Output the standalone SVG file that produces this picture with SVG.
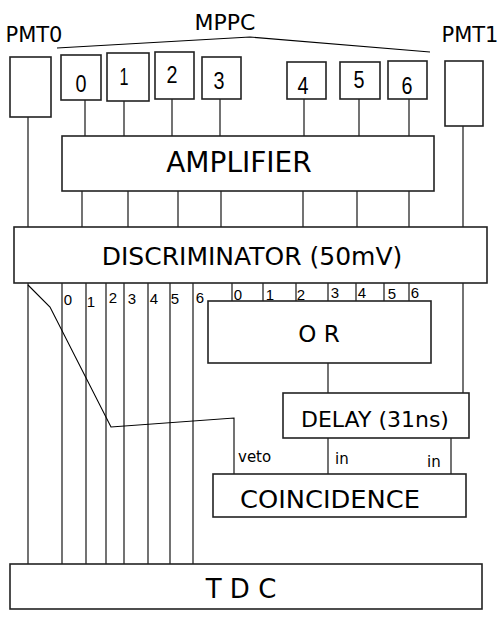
<svg xmlns="http://www.w3.org/2000/svg" width="500" height="640" viewBox="0 0 500 640">
<style>
.box{fill:#fff;stroke:#222;stroke-width:1.6}
.ln{fill:none;stroke:#000;stroke-width:1.1}
.big{font-family:"DejaVu Sans",Verdana,sans-serif;fill:#000;text-anchor:middle}
.dig{font-family:"Liberation Sans",Arial,sans-serif;font-size:24px;fill:#000;text-anchor:middle}
.sm{font-family:"Liberation Sans",Arial,sans-serif;font-size:15px;fill:#000;text-anchor:middle}
.lab{font-family:"DejaVu Sans",Verdana,sans-serif;font-size:15px;fill:#000}
</style>
<rect width="500" height="640" fill="#fff"/>
<g id="connectors">
<path class="ln" d="M57,48 L250,37 L430,52"/>
<path class="ln" d="M28,117 V227 M463,126 V227"/>
<path class="ln" d="M85,100 V136 M124,101 V136 M172,99 V136 M220,99 V136 M304,99 V136 M359,99 V136 M409,99 V136"/>
<path class="ln" d="M82,191 V227 M128,191 V227 M178,191 V227 M221,191 V227 M303,191 V227 M357,191 V227 M409,191 V227"/>
<path class="ln" d="M28,283 V564 M62,283 V564 M86,283 V564 M106,283 V564 M124,283 V564 M148,283 V564 M170,283 V564 M193,283 V564"/>
<path class="ln" d="M232,283 V301 M263,283 V301 M296,283 V301 M328,283 V301 M356,283 V301 M384,283 V301 M409,283 V301"/>
<path class="ln" d="M463,283 V393"/>
<path class="ln" d="M328,363 V393"/>
<path class="ln" d="M28,285 L50,307 L111,427 L234,418 V474"/>
<path class="ln" d="M328,438 V474 M451,438 V474"/>
</g>
<g id="pmt0"><rect class="box" x="10" y="57" width="41" height="60"/><text class="big" x="34" y="42" font-size="21">PMT0</text></g>
<g id="mppc-label"><text class="big" x="225" y="30" font-size="22">MPPC</text></g>
<g id="pmt1"><rect class="box" x="445" y="61" width="38" height="65"/><text class="big" x="470" y="42" font-size="21">PMT1</text></g>
<g id="mppc0"><rect class="box" x="61" y="55" width="40" height="45"/><text class="dig" x="81" y="92" textLength="11" lengthAdjust="spacingAndGlyphs">0</text></g>
<g id="mppc1"><rect class="box" x="107" y="53" width="42" height="48"/><text class="dig" x="124" y="85" textLength="9" lengthAdjust="spacingAndGlyphs">1</text></g>
<g id="mppc2"><rect class="box" x="155" y="52" width="39" height="47"/><text class="dig" x="172" y="83" textLength="11" lengthAdjust="spacingAndGlyphs">2</text></g>
<g id="mppc3"><rect class="box" x="202" y="57" width="39" height="42"/><text class="dig" x="219" y="89" textLength="11" lengthAdjust="spacingAndGlyphs">3</text></g>
<g id="mppc4"><rect class="box" x="287" y="62" width="39" height="37"/><text class="dig" x="303" y="94" textLength="11" lengthAdjust="spacingAndGlyphs">4</text></g>
<g id="mppc5"><rect class="box" x="340" y="62" width="40" height="37"/><text class="dig" x="359" y="88" textLength="11" lengthAdjust="spacingAndGlyphs">5</text></g>
<g id="mppc6"><rect class="box" x="388" y="61" width="39" height="38"/><text class="dig" x="407" y="94" textLength="11" lengthAdjust="spacingAndGlyphs">6</text></g>
<g id="amplifier"><rect class="box" x="62" y="136" width="372" height="55"/><text class="big" x="239" y="172" font-size="28">AMPLIFIER</text></g>
<g id="discriminator"><rect class="box" x="14" y="227" width="473" height="56"/><text class="big" x="252" y="265" font-size="25">DISCRIMINATOR (50mV)</text></g>
<g id="tdc-labels">
<text class="sm" x="68" y="305">0</text><text class="sm" x="91" y="307">1</text><text class="sm" x="113" y="303">2</text><text class="sm" x="132" y="304">3</text><text class="sm" x="154" y="304">4</text><text class="sm" x="175" y="304">5</text><text class="sm" x="200" y="303">6</text>
</g>
<g id="or-labels">
<text class="sm" x="238" y="300">0</text><text class="sm" x="270" y="300">1</text><text class="sm" x="301" y="300">2</text><text class="sm" x="335" y="298">3</text><text class="sm" x="362" y="298">4</text><text class="sm" x="392" y="299">5</text><text class="sm" x="415" y="298">6</text>
</g>
<g id="or"><rect class="box" x="208" y="301" width="223" height="62"/><text class="big" x="319" y="342" font-size="23">O R</text></g>
<g id="delay"><rect class="box" x="283" y="393" width="186" height="45"/><text class="big" x="375" y="427" font-size="22">DELAY (31ns)</text></g>
<g id="coincidence"><rect class="box" x="213" y="474" width="253" height="43"/><text class="big" x="330" y="508" font-size="24" textLength="180" lengthAdjust="spacingAndGlyphs">COINCIDENCE</text>
<text class="lab" x="238" y="462">veto</text><text class="lab" x="335" y="464">in</text><text class="lab" x="427" y="467">in</text></g>
<g id="tdc"><rect class="box" x="10" y="564" width="472" height="45"/><text class="big" x="241" y="598" font-size="26">T D C</text></g>
</svg>
